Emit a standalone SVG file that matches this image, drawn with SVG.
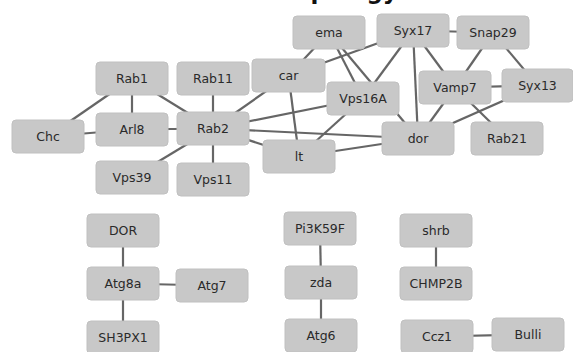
<svg xmlns="http://www.w3.org/2000/svg" width="573" height="352" viewBox="0 0 573 352">
<style>
.n rect{fill:#c8c8c8;stroke:#c0c0c0;stroke-width:1}
.n text{font-family:"DejaVu Sans",sans-serif;font-size:12.5px;fill:#2a2a2a;text-anchor:middle}
#edges line{stroke:#666;stroke-width:2.2}
.title{font-family:"DejaVu Sans",sans-serif;font-size:23px;font-weight:bold;fill:#111}
</style>
<rect width="573" height="352" fill="#fff"/>
<text class="title" x="282" y="-1">Topology</text>
<g id="edges">
<line x1="132" y1="78.5" x2="48" y2="136.5"/>
<line x1="132" y1="78.5" x2="132" y2="129.5"/>
<line x1="132" y1="78.5" x2="213" y2="128.5"/>
<line x1="213" y1="78.5" x2="213" y2="128.5"/>
<line x1="48" y1="136.5" x2="132" y2="129.5"/>
<line x1="132" y1="129.5" x2="213" y2="128.5"/>
<line x1="213" y1="128.5" x2="132" y2="177.5"/>
<line x1="213" y1="128.5" x2="213" y2="179.5"/>
<line x1="213" y1="128.5" x2="288.5" y2="75.5"/>
<line x1="213" y1="128.5" x2="363" y2="98.5"/>
<line x1="213" y1="128.5" x2="418" y2="138.5"/>
<line x1="213" y1="128.5" x2="299" y2="156.5"/>
<line x1="288.5" y1="75.5" x2="299" y2="156.5"/>
<line x1="288.5" y1="75.5" x2="329" y2="32.5"/>
<line x1="288.5" y1="75.5" x2="413" y2="30.5"/>
<line x1="329" y1="32.5" x2="363" y2="98.5"/>
<line x1="329" y1="32.5" x2="418" y2="138.5"/>
<line x1="413" y1="30.5" x2="363" y2="98.5"/>
<line x1="413" y1="30.5" x2="418" y2="138.5"/>
<line x1="413" y1="30.5" x2="455" y2="87.5"/>
<line x1="413" y1="30.5" x2="493" y2="32.5"/>
<line x1="493" y1="32.5" x2="455" y2="87.5"/>
<line x1="493" y1="32.5" x2="537.5" y2="85.5"/>
<line x1="455" y1="87.5" x2="537.5" y2="85.5"/>
<line x1="455" y1="87.5" x2="418" y2="138.5"/>
<line x1="455" y1="87.5" x2="507" y2="138.5"/>
<line x1="537.5" y1="85.5" x2="418" y2="138.5"/>
<line x1="363" y1="98.5" x2="299" y2="156.5"/>
<line x1="299" y1="156.5" x2="418" y2="138.5"/>
<line x1="123" y1="230.5" x2="123" y2="283.5"/>
<line x1="123" y1="283.5" x2="212" y2="285.5"/>
<line x1="123" y1="283.5" x2="123" y2="337.5"/>
<line x1="320" y1="228.5" x2="321" y2="282.5"/>
<line x1="321" y1="282.5" x2="321" y2="335.5"/>
<line x1="436" y1="230.5" x2="436" y2="283.5"/>
<line x1="437" y1="336.5" x2="528" y2="334.5"/>
</g>
<g id="Rab1" class="n"><rect x="96" y="62" width="72" height="33" rx="4"/><text x="132" y="83">Rab1</text></g>
<g id="Rab11" class="n"><rect x="177" y="62" width="72" height="33" rx="4"/><text x="213" y="83">Rab11</text></g>
<g id="car" class="n"><rect x="252" y="59" width="73" height="33" rx="4"/><text x="288.5" y="80">car</text></g>
<g id="ema" class="n"><rect x="293" y="16" width="72" height="33" rx="4"/><text x="329" y="37">ema</text></g>
<g id="Syx17" class="n"><rect x="377" y="14" width="72" height="33" rx="4"/><text x="413" y="35">Syx17</text></g>
<g id="Snap29" class="n"><rect x="457" y="16" width="72" height="33" rx="4"/><text x="493" y="37">Snap29</text></g>
<g id="Chc" class="n"><rect x="12" y="120" width="72" height="33" rx="4"/><text x="48" y="141">Chc</text></g>
<g id="Arl8" class="n"><rect x="96" y="113" width="72" height="33" rx="4"/><text x="132" y="134">Arl8</text></g>
<g id="Rab2" class="n"><rect x="177" y="112" width="72" height="33" rx="4"/><text x="213" y="133">Rab2</text></g>
<g id="Vps16A" class="n"><rect x="327" y="82" width="72" height="33" rx="4"/><text x="363" y="103">Vps16A</text></g>
<g id="Vamp7" class="n"><rect x="419" y="71" width="72" height="33" rx="4"/><text x="455" y="92">Vamp7</text></g>
<g id="Syx13" class="n"><rect x="502" y="69" width="71" height="33" rx="4"/><text x="537.5" y="90">Syx13</text></g>
<g id="lt" class="n"><rect x="263" y="140" width="72" height="33" rx="4"/><text x="299" y="161">lt</text></g>
<g id="dor" class="n"><rect x="382" y="122" width="72" height="33" rx="4"/><text x="418" y="143">dor</text></g>
<g id="Rab21" class="n"><rect x="471" y="122" width="72" height="33" rx="4"/><text x="507" y="143">Rab21</text></g>
<g id="Vps39" class="n"><rect x="96" y="161" width="72" height="33" rx="4"/><text x="132" y="182">Vps39</text></g>
<g id="Vps11" class="n"><rect x="177" y="163" width="72" height="33" rx="4"/><text x="213" y="184">Vps11</text></g>
<g id="DOR" class="n"><rect x="87" y="214" width="72" height="33" rx="4"/><text x="123" y="235">DOR</text></g>
<g id="Atg8a" class="n"><rect x="87" y="267" width="72" height="33" rx="4"/><text x="123" y="288">Atg8a</text></g>
<g id="Atg7" class="n"><rect x="176" y="269" width="72" height="33" rx="4"/><text x="212" y="290">Atg7</text></g>
<g id="SH3PX1" class="n"><rect x="87" y="321" width="72" height="33" rx="4"/><text x="123" y="342">SH3PX1</text></g>
<g id="Pi3K59F" class="n"><rect x="284" y="212" width="72" height="33" rx="4"/><text x="320" y="233">Pi3K59F</text></g>
<g id="zda" class="n"><rect x="285" y="266" width="72" height="33" rx="4"/><text x="321" y="287">zda</text></g>
<g id="Atg6" class="n"><rect x="285" y="319" width="72" height="33" rx="4"/><text x="321" y="340">Atg6</text></g>
<g id="shrb" class="n"><rect x="400" y="214" width="72" height="33" rx="4"/><text x="436" y="235">shrb</text></g>
<g id="CHMP2B" class="n"><rect x="400" y="267" width="72" height="33" rx="4"/><text x="436" y="288">CHMP2B</text></g>
<g id="Ccz1" class="n"><rect x="401" y="320" width="72" height="33" rx="4"/><text x="437" y="341">Ccz1</text></g>
<g id="Bulli" class="n"><rect x="492" y="318" width="72" height="33" rx="4"/><text x="528" y="339">Bulli</text></g>
</svg>
